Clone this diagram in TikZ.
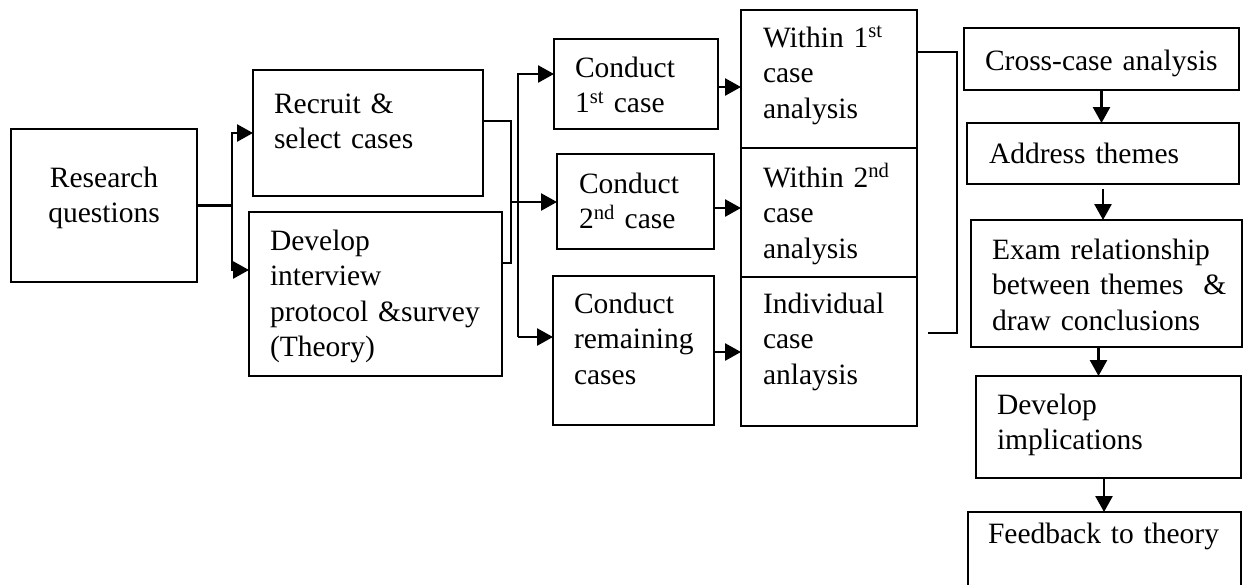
\documentclass[tikz,border=0pt]{standalone}
\usepackage{fontspec}
\setmainfont{Liberation Serif}
\usetikzlibrary{arrows.meta}
\tikzset{
  box/.style={draw, line width=2.6pt, inner sep=0pt, outer sep=0pt},
  txt/.style={anchor=base west, inner sep=0pt, outer sep=0pt, align=left, text width=300pt,
    font=\fontsize{29.5}{35.5}\selectfont},
  ctxt/.style={txt, anchor=base, align=center},
  conn/.style={line width=2.6pt},
  arr/.style={conn, -{Triangle[length=16pt,width=17pt]}}
}
\begin{document}
\begin{tikzpicture}[x=1pt,y=-1pt]
\clip (0,0) rectangle (1246,584);
\useasboundingbox (0,0) rectangle (1246,584);
% boxes
\node[box, minimum width=186pt, minimum height=153pt] (rq)  at (104,205.5) {};
\node[box, minimum width=230pt, minimum height=126pt] (rec) at (368,133) {};
\node[box, minimum width=253pt, minimum height=164pt] (dev) at (375.5,294) {};
\node[box, minimum width=164pt, minimum height=90pt]  (c1)  at (636,84) {};
\node[box, minimum width=157pt, minimum height=95pt]  (c2)  at (635.5,201.5) {};
\node[box, minimum width=161pt, minimum height=149pt] (cR)  at (633.5,350.5) {};
\node[box, minimum width=176pt, minimum height=138pt] (w1)  at (829,79) {};
\node[box, minimum width=176pt, minimum height=129pt] (w2)  at (829,212.5) {};
\node[box, minimum width=176pt, minimum height=149pt] (ind) at (829,351.5) {};
\node[box, minimum width=275pt, minimum height=62pt]  (cc)  at (1101.5,59) {};
\node[box, minimum width=272pt, minimum height=61pt]  (at)  at (1103,153.5) {};
\node[box, minimum width=271pt, minimum height=127pt] (ex)  at (1106.5,283.5) {};
\node[box, minimum width=265pt, minimum height=102pt] (di)  at (1108.5,427) {};
\node[box, minimum width=273pt, minimum height=108pt] (fb)  at (1104.5,566) {};
% texts
\node[ctxt] (t-rq)  at (104,187) {Research\\questions};
\node[txt]  (t-rec) at (274,113) {Recruit \&\\select cases};
\node[txt]  (t-dev) at (270,250) {Develop\\interview\\protocol \&survey\\(Theory)};
\node[txt]  (t-c1)  at (575,77)  {Conduct\\1\textsuperscript{st} case};
\node[txt]  (t-c2)  at (579,193) {Conduct\\2\textsuperscript{nd} case};
\node[txt]  (t-cR)  at (574,313) {Conduct\\remaining\\cases};
\node[txt]  (t-w1)  at (763,47)  {Within 1\textsuperscript{st}\\case\\analysis};
\node[txt]  (t-w2)  at (763,187) {Within 2\textsuperscript{nd}\\case\\analysis};
\node[txt]  (t-ind) at (763,313) {Individual\\case\\anlaysis};
\node[txt]  (t-cc)  at (985,70)  {Cross-case analysis};
\node[txt]  (t-at)  at (989,163) {Address themes};
\node[txt]  (t-ex)  at (992,259) {Exam relationship\\between themes\ \ \&\\draw conclusions};
\node[txt]  (t-di)  at (997,414) {Develop\\implications};
\node[txt]  (t-fb)  at (988,543) {Feedback to theory};
% connectors: research questions to the two first steps
\coordinate (s1) at (232,205.5);
\coordinate (s2) at (232,270);
\draw[arr] (rq.east) -- (s1) |- (rec.west);
\draw[arr] (s1) -- (s2) -- (s2 -| dev.west);
% bracket joining recruit and develop
\coordinate (b1) at (511,121);
\coordinate (b2) at (511,263);
\coordinate (b3) at (511,202);
\draw[conn] (b1 -| rec.east) -- (b1) -- (b2) -- (b2 -| dev.east);
\draw[arr] (b3) -- (b3 -| c2.west);
% split to conduct 1st and remaining
\coordinate (v1) at (518,74);
\coordinate (v2) at (518,337);
\draw[arr] (v2) -- (v1) -- (v1 -| c1.west);
\draw[arr] (v2) -- (v2 -| cR.west);
% conduct -> within
\draw[arr] ([yshift=-3pt]c1.east) -- ([yshift=-3pt]c1.east -| w1.west);
\draw[arr] ([yshift=-6.5pt]c2.east) -- ([yshift=-6.5pt]c2.east -| w2.west);
\draw[arr] ([yshift=-1.5pt]cR.east) -- ([yshift=-1.5pt]cR.east -| ind.west);
% bracket to the right
\coordinate (r1) at (957,52);
\coordinate (r2) at (957,333);
\coordinate (r3) at (928,333);
\draw[conn] (r1 -| w1.east) -- (r1) -- (r2) -- (r3);
% right column
\draw[arr] (cc.south) -- (cc.south |- at.north);
\draw[arr] ([yshift=-5pt]at.south) -- (at.south |- ex.north);
\draw[arr] ([xshift=-8pt]ex.south) -- ([xshift=-8pt]ex.south |- di.north);
\draw[arr] ([xshift=-4.5pt]di.south) -- ([xshift=-4.5pt]di.south |- fb.north);
\end{tikzpicture}
\end{document}
